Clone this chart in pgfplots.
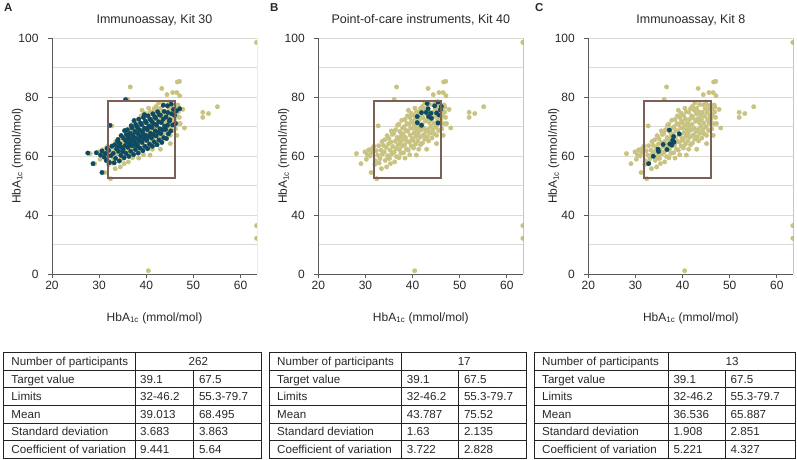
\documentclass[border=0pt]{standalone}
\usepackage{fontspec}
\setmainfont{Liberation Sans}
\usepackage{pgfplots}
\usepackage{pgfplotstable}
\pgfplotsset{compat=1.18}
\definecolor{khaki}{RGB}{200,195,128}
\definecolor{darkteal}{RGB}{14,74,98}
\definecolor{boxc}{RGB}{122,96,86}
\definecolor{gridc}{RGB}{218,218,214}
\definecolor{axc}{RGB}{90,90,90}
\definecolor{txt}{RGB}{40,40,40}
\definecolor{tbl}{RGB}{35,35,35}

% background: all participants (x = first analyte, y = second analyte)
\pgfplotstableread{
x y
28.1 60.8
29.05 57.4
29.9 61.4
30.4 60.5
30.7 62.1
30.2 58.9
31.2 54.4
31.0 60.0
31.5 62.6
31.3 61.2
31.8 63.3
32.4 52.3
32.1 58.4
32.6 60.3
32.3 61.8
32.8 63.5
32.0 57.1
32.7 70.2
33.4 55.7
33.1 59.1
33.6 60.6
33.3 62.0
33.8 63.6
33.5 64.9
32.9 57.6
34.5 56.3
34.2 58.5
34.7 60.1
34.0 61.4
34.4 62.9
34.9 64.1
34.1 65.5
34.6 66.9
34.8 59.3
35.3 57.4
35.1 59.2
35.6 60.7
35.2 62.0
35.8 63.2
35.4 64.7
35.0 65.9
35.7 67.3
35.5 68.5
35.9 61.3
36.2 58.0
36.6 59.8
36.1 61.3
36.5 62.5
36.9 63.8
36.3 65.0
36.7 66.3
36.0 67.7
36.4 68.9
36.8 70.4
36.6 83.4
36.1 79.2
37.1 59.4
37.5 60.9
37.2 62.2
37.8 63.4
37.4 64.7
37.0 65.8
37.6 67.0
37.3 68.3
37.9 69.5
37.1 70.8
37.7 72.1
37.5 66.4
38.4 59.3
38.1 61.1
38.7 62.4
38.3 63.8
38.9 65.0
38.5 66.3
38.0 67.5
38.6 68.7
38.2 69.9
38.8 71.0
38.4 72.4
38.9 73.6
38.1 65.6
39.4 60.4
39.1 62.0
39.7 63.4
39.3 64.7
39.9 65.9
39.5 67.1
39.0 68.4
39.6 69.5
39.2 70.8
39.8 71.9
39.4 73.1
39.7 74.5
39.1 75.5
40.8 60.3
40.2 62.7
40.6 64.0
40.1 65.3
40.7 66.6
40.3 67.8
40.9 68.9
40.4 70.1
40.0 71.3
40.6 72.6
40.2 73.8
40.8 75.0
40.5 76.2
40.1 69.4
41.3 62.3
41.7 63.8
41.1 65.1
41.6 66.4
41.2 67.7
41.8 68.8
41.4 70.0
41.0 71.2
41.5 72.4
41.9 73.6
41.3 74.9
41.7 76.1
41.2 70.6
42.1 64.4
42.6 65.7
42.3 67.1
42.8 68.2
42.4 69.5
42.0 70.7
42.7 71.8
42.2 73.0
42.9 74.3
42.5 75.5
42.1 76.8
42.6 78.0
43.0 62.3
43.4 65.1
43.1 66.5
43.7 67.7
43.3 69.0
43.9 70.1
43.5 71.4
43.2 72.6
43.8 73.7
43.4 75.0
43.0 76.2
43.6 77.5
43.3 82.9
44.1 66.1
44.6 67.5
44.3 68.8
44.9 69.9
44.5 71.2
44.0 72.4
44.7 73.5
44.2 74.8
44.8 76.0
44.4 77.3
44.9 78.3
44.4 80.8
45.1 64.2
45.1 67.0
45.5 68.6
45.0 69.8
45.6 71.1
45.3 72.3
45.8 73.5
45.2 74.7
45.7 75.9
45.4 77.2
45.6 81.5
46.5 67.0
46.2 69.2
46.6 71.0
46.0 72.4
46.4 73.6
46.1 74.0
46.8 74.9
46.3 76.1
46.7 77.3
46.5 81.5
46.6 85.1
47.05 85.3
47.1 80.4
46.85 76.6
47.75 75.8
47.0 73.1
47.2 71.0
48.1 69.5
52.0 74.8
52.0 73.1
53.2 74.4
55.1 76.7
63.4 98.5
63.4 36.4
63.4 32.1
40.45 21.1
}\bg

\pgfplotstableread{
x y
27.6 61.0
28.7 57.4
29.4 61.1
30.6 54.4
30.6 61.7
30.3 60.3
31.5 58.5
31.3 60.8
31.7 62.6
31.1 59.6
32.3 70.4
32.2 57.8
32.5 60.1
32.0 61.9
32.7 63.3
33.2 57.7
33.5 59.2
33.0 60.9
33.7 62.4
33.3 63.8
33.9 65.0
34.3 58.3
34.6 60.2
34.1 61.6
34.8 62.9
34.4 64.2
34.0 65.6
34.7 66.9
34.2 63.3
35.3 59.4
35.7 60.9
35.1 62.2
35.5 63.5
35.9 64.8
35.2 66.0
35.8 67.3
35.4 68.6
35.0 61.5
35.6 65.3
35.6 79.1
36.3 59.9
36.7 61.6
36.1 62.9
36.5 64.1
36.9 65.3
36.2 66.5
36.6 67.7
36.0 68.9
36.8 70.2
36.4 63.5
36.3 66.0
37.3 60.5
37.7 62.2
37.1 63.5
37.5 64.7
37.9 65.9
37.2 67.1
37.6 68.3
37.0 69.5
37.8 70.7
37.4 72.0
37.3 66.4
37.8 64.0
38.3 61.0
38.7 62.7
38.1 64.0
38.5 65.2
38.9 66.4
38.2 67.6
38.6 68.8
38.0 70.0
38.8 71.2
38.4 72.5
38.3 69.3
38.6 66.9
38.1 63.4
39.3 61.8
39.7 63.3
39.1 64.6
39.5 65.8
39.9 67.0
39.2 68.2
39.6 69.4
39.0 70.6
39.8 71.8
39.4 73.1
39.6 74.0
39.3 67.6
39.8 66.2
40.3 62.5
40.7 64.0
40.1 65.3
40.5 66.5
40.9 67.7
40.2 68.9
40.6 70.1
40.0 71.3
40.8 72.5
40.4 73.6
40.3 69.5
40.8 66.9
41.3 63.3
41.7 64.8
41.1 66.1
41.5 67.3
41.9 68.5
41.2 69.7
41.6 70.9
41.0 72.1
41.8 73.3
41.4 74.3
41.3 71.4
42.3 63.8
42.7 65.4
42.1 66.8
42.5 68.0
42.9 69.2
42.2 70.4
42.6 71.6
42.0 72.8
42.8 74.0
42.4 75.0
43.3 64.6
43.7 66.2
43.1 67.6
43.5 68.9
43.9 70.1
43.2 71.3
43.6 72.5
43.0 73.8
43.8 75.1
43.6 77.2
44.3 65.9
44.7 67.5
44.1 69.0
44.5 70.4
44.9 71.8
44.2 73.2
44.6 74.7
44.5 77.0
45.2 68.5
45.6 70.5
45.0 72.3
45.4 74.3
45.8 75.8
45.3 77.6
46.2 71.0
46.0 73.8
46.4 75.3
47.1 76.0
}\darkA

\pgfplotstableread{
x y
41.0 73.4
41.0 71.3
41.9 70.4
41.9 74.7
42.9 74.8
43.1 77.8
43.3 76.0
43.4 73.4
43.9 74.5
44.0 72.8
44.7 77.0
45.1 74.6
45.4 78.3
45.4 71.2
45.9 75.6
46.1 76.8
45.6 73.9
}\darkB

\pgfplotstableread{
x y
32.8 57.4
33.8 59.9
34.9 61.5
34.8 62.3
35.9 63.9
36.7 62.2
37.2 68.8
37.3 64.1
37.9 65.3
38.1 66.6
39.3 67.5
38.2 64.7
37.7 63.7
}\darkC

\pgfplotsset{
  panel/.style={
    scale only axis, width=205pt, height=236pt, anchor=south west,
    xmin=20, xmax=63.5, ymin=20, ymax=100,
    axis lines=left, axis line style={axc, line width=0.9pt, -},
    xtick={20,30,40,50,60},
    ytick={20,40,60,80,100}, yticklabels={0,40,60,80,100},
    minor ytick={30,50,70,90},
    ymajorgrids, yminorgrids,
    grid style={gridc, line width=0.9pt},
    major grid style={gridc, line width=0.9pt},
    minor grid style={gridc, line width=0.9pt},
    tick align=outside, major tick length=4pt, minor tick length=0pt,
    tick style={axc, line width=0.8pt},
    /pgf/number format/assume math mode=true,
    tick label style={font=\fontsize{12}{14}\selectfont, text=txt},
    yticklabel style={xshift=-6pt},
    xlabel={HbA\textsubscript{1c} (mmol/mol)},
    ylabel={HbA\textsubscript{1c} (mmol/mol)},
    label style={font=\fontsize{12}{14}\selectfont, text=txt},
    xlabel style={at={(axis description cs:0.5,-0.186)}, anchor=center},
    ylabel style={at={(axis description cs:-0.168,0.5)}, anchor=center},
    title style={font=\fontsize{12.5}{15}\selectfont, text=txt,
                 at={(axis description cs:0.5,1.05)}, anchor=center},
    clip marker paths=true,
  },
  bgpts/.style={only marks, mark=*, mark size=2.2pt, color=khaki, draw=khaki, fill=khaki},
  dkpts/.style={only marks, mark=*, mark size=2.2pt, color=darkteal, draw=darkteal, fill=darkteal},
  limbox/.style={boxc, line width=2pt, mark=none, line join=miter},
}

\tikzset{
  cell/.style={anchor=base west, inner sep=0pt, font=\fontsize{11.6}{13}\selectfont, text=txt},
  tline/.style={tbl, line width=0.8pt},
}

% table frame: left, split1, split2, right, N
\newcommand{\tframe}[5]{%
  \draw[tline] (#1pt,1.7pt) rectangle (#4pt,107.5pt);
  \foreach \yy in {89.87,72.23,54.6,36.97,19.33}{\draw[tline] (#1pt,\yy pt) -- (#4pt,\yy pt);}
  \draw[tline] (#2pt,1.7pt) -- (#2pt,107.5pt);
  \draw[tline] (#3pt,1.7pt) -- (#3pt,89.87pt);
  \node[cell] at ({#1pt+8pt},94.58pt) {Number of participants};
  \node[cell, anchor=base] at ({(#2pt+#4pt)/2},94.58pt) {#5};
}
% row: left, split1, split2, baseline, label, v1, v2
\newcommand{\trow}[7]{%
  \node[cell] at ({#1pt+8pt},#4pt) {#5};
  \node[cell] at ({#2pt+5pt},#4pt) {#6};
  \node[cell] at ({#3pt+5.5pt},#4pt) {#7};
}

\begin{document}
\begin{tikzpicture}
\useasboundingbox (0pt,0pt) rectangle (797pt,460pt);

% ---------- Panel A ----------
\begin{axis}[panel, at={(52pt,186pt)}, title={Immunoassay, Kit 30}]
\addplot[bgpts] table {\bg};
\addplot[dkpts] table {\darkA};
\addplot[limbox] coordinates {(31.8,52.4) (46.1,52.4) (46.1,78.5) (31.8,78.5) (31.8,52.4) (46.1,52.4)};
\draw[axc, line width=0.9pt] (rel axis cs:1,0) -- (rel axis cs:1,1);
\end{axis}

% ---------- Panel B ----------
\begin{axis}[panel, at={(318.3pt,186pt)}, title={Point-of-care instruments, Kit 40}]
\addplot[bgpts] table {\bg};
\addplot[dkpts] table {\darkB};
\addplot[limbox] coordinates {(31.8,52.4) (46.1,52.4) (46.1,78.5) (31.8,78.5) (31.8,52.4) (46.1,52.4)};
\draw[axc, line width=0.9pt] (rel axis cs:1,0) -- (rel axis cs:1,1);
\end{axis}

% ---------- Panel C ----------
\begin{axis}[panel, at={(588.3pt,186pt)}, title={Immunoassay, Kit 8}]
\addplot[bgpts] table {\bg};
\addplot[dkpts] table {\darkC};
\addplot[limbox] coordinates {(31.8,52.4) (46.1,52.4) (46.1,78.5) (31.8,78.5) (31.8,52.4) (46.1,52.4)};
\draw[axc, line width=0.9pt] (rel axis cs:1,0) -- (rel axis cs:1,1);
\end{axis}

% panel letters
\node[anchor=base west, inner sep=0pt, font=\bfseries\fontsize{11.5}{13}\selectfont, text=txt] at (4pt,448pt) {A};
\node[anchor=base west, inner sep=0pt, font=\bfseries\fontsize{11.5}{13}\selectfont, text=txt] at (270pt,448pt) {B};
\node[anchor=base west, inner sep=0pt, font=\bfseries\fontsize{11.5}{13}\selectfont, text=txt] at (535pt,448pt) {C};

% ---------- Tables ----------
\tframe{3.3}{135}{193.3}{261.7}{262}
\trow{3.3}{135}{193.3}{76.95}{Target value}{39.1}{67.5}
\trow{3.3}{135}{193.3}{59.32}{Limits}{32-46.2}{55.3-79.7}
\trow{3.3}{135}{193.3}{41.68}{Mean}{39.013}{68.495}
\trow{3.3}{135}{193.3}{24.05}{Standard deviation}{3.683}{3.863}
\trow{3.3}{135}{193.3}{6.42}{Coefficient of variation}{9.441}{5.64}

\tframe{269}{401.7}{458.3}{526.7}{17}
\trow{269}{401.7}{458.3}{76.95}{Target value}{39.1}{67.5}
\trow{269}{401.7}{458.3}{59.32}{Limits}{32-46.2}{55.3-79.7}
\trow{269}{401.7}{458.3}{41.68}{Mean}{43.787}{75.52}
\trow{269}{401.7}{458.3}{24.05}{Standard deviation}{1.63}{2.135}
\trow{269}{401.7}{458.3}{6.42}{Coefficient of variation}{3.722}{2.828}

\tframe{534}{668.3}{725}{795.7}{13}
\trow{534}{668.3}{725}{76.95}{Target value}{39.1}{67.5}
\trow{534}{668.3}{725}{59.32}{Limits}{32-46.2}{55.3-79.7}
\trow{534}{668.3}{725}{41.68}{Mean}{36.536}{65.887}
\trow{534}{668.3}{725}{24.05}{Standard deviation}{1.908}{2.851}
\trow{534}{668.3}{725}{6.42}{Coefficient of variation}{5.221}{4.327}

\end{tikzpicture}
\end{document}
